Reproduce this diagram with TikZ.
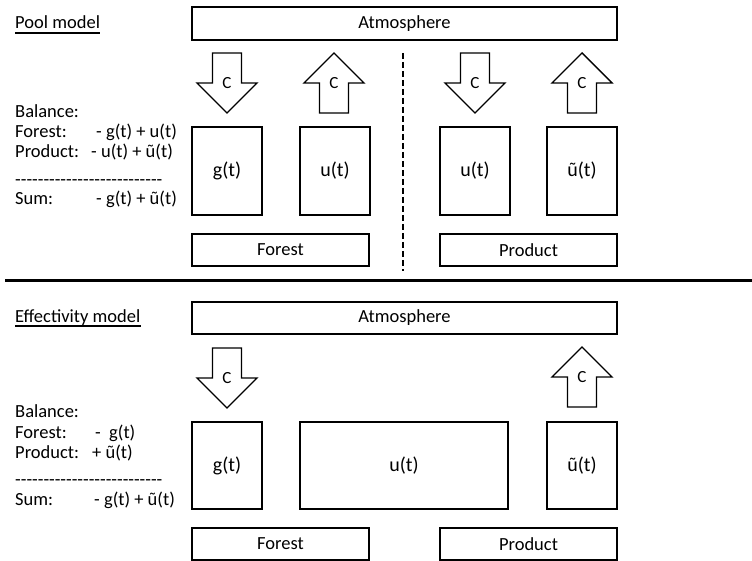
\documentclass[tikz,border=0pt]{standalone}
\usepackage{fontspec}
\setmainfont{Carlito}
\begin{document}
\begin{tikzpicture}[x=1pt,y=-1pt,
  caja/.style={draw,line width=1.4pt,inner sep=0pt,font=\fontsize{18.5}{20}\selectfont},
  pool/.style={caja,minimum width=70,font=\fontsize{20}{22}\selectfont},
  blk/.style={draw,line width=1.4pt,line join=miter},
  lbl/.style={inner sep=0pt,font=\fontsize{17}{18}\selectfont},
  txt/.style={anchor=base west,inner sep=0pt,font=\fontsize{18.5}{20}\selectfont},
  subr/.style={line width=1.6pt}]
\useasboundingbox (0,0) rectangle (752,561);
% Block arrows: name, centre x, top y.
\newcommand{\flechabaja}[3]{%
  \draw[blk] ({#2-14.5},#3) -- ({#2+14.5},#3) -- ({#2+14.5},#3+30) -- ({#2+30},#3+30)
    -- (#2,#3+60) -- ({#2-30},#3+30) -- ({#2-14.5},#3+30) -- cycle;
  \node[lbl] (#1) at (#2,#3+30) {C};}
\newcommand{\flechasube}[3]{%
  \draw[blk] (#2,#3) -- ({#2+30},#3+30) -- ({#2+14.5},#3+30) -- ({#2+14.5},#3+60)
    -- ({#2-14.5},#3+60) -- ({#2-14.5},#3+30) -- ({#2-30},#3+30) -- cycle;
  \node[lbl] (#1) at (#2,#3+30) {C};}
% Row of hyphens (kerns keep them from joining into dashes).
\newcommand{\rayas}{\foreach \i in {1,...,26}{-\kern0pt}}
% Pool model
\begin{scope}
\node[txt] (tPool) at (15,29) {Pool model};
\draw[subr] ([yshift=-4pt]tPool.base west) -- ([yshift=-4pt]tPool.base east);
\node[txt] (tBal) at (15,118) {Balance:};
\node[txt] (tFor) at (15,138) {Forest:};
\node[txt] (tPro) at (15,158) {Product:};
\node[txt] (tDash) at (15,185.5) {\rayas};
\node[txt] (tSum) at (15,205) {Sum:};
\node[txt] (vFor) at (96,138) {- g(t) + u(t)};
\node[txt] (vPro) at (91,158) {- u(t) + ũ(t)};
\node[txt] (vSum) at (96,205) {- g(t) + ũ(t)};
\node[caja,minimum width=425,minimum height=33] (atm) at (404.5,23.5) {Atmosphere};
\flechabaja{cG}{227}{53}
\flechasube{cU}{334}{53}
\flechabaja{cP}{475}{53}
\flechasube{cT}{582}{53}
\node[pool,minimum height=88] (g) at (227,171) {g(t)};
\node[pool,minimum height=88] (u) at (335,171) {u(t)};
\node[pool,minimum height=88] (uP) at (475,171) {u(t)};
\node[pool,minimum height=88] (ut) at (582,171) {ũ(t)};
\node[caja,minimum width=177,minimum height=32] (forest) at (280.5,250) {Forest};
\node[caja,minimum width=177,minimum height=32] (product) at (528.5,250) {Product};
\draw[line width=1.8pt,dash pattern=on 6pt off 3pt] (403,53) -- (403,271);
\end{scope}
\draw[line width=3pt] (5,281) -- (752,281);
% Effectivity model
\begin{scope}
\node[txt] (tEff) at (15,322) {Effectivity model};
\draw[subr] ([yshift=-4pt]tEff.base west) -- ([yshift=-4pt]tEff.base east);
\node[txt] (tBal2) at (15,417) {Balance:};
\node[txt] (tFor2) at (15,438) {Forest:};
\node[txt] (tPro2) at (15,458) {Product:};
\node[txt] (tDash2) at (15,485) {\rayas};
\node[txt] (tSum2) at (15,505) {Sum:};
\node[txt] (vFor2) at (95,438) {-\ \ g(t)};
\node[txt] (vPro2) at (92,458) {+ ũ(t)};
\node[txt] (vSum2) at (94,505) {- g(t) + ũ(t)};
\node[caja,minimum width=425,minimum height=32] (atm2) at (404.5,318) {Atmosphere};
\flechabaja{cG2}{227}{348}
\flechasube{cT2}{582}{347}
\node[pool,minimum height=87] (g2) at (227,465.5) {g(t)};
\node[pool,minimum width=208,minimum height=87] (u2) at (404,465.5) {u(t)};
\node[pool,minimum height=87] (ut2) at (582,465.5) {ũ(t)};
\node[caja,minimum width=177,minimum height=32] (forest2) at (280.5,544) {Forest};
\node[caja,minimum width=177,minimum height=32] (product2) at (528.5,544) {Product};
\end{scope}
\end{tikzpicture}
\end{document}
